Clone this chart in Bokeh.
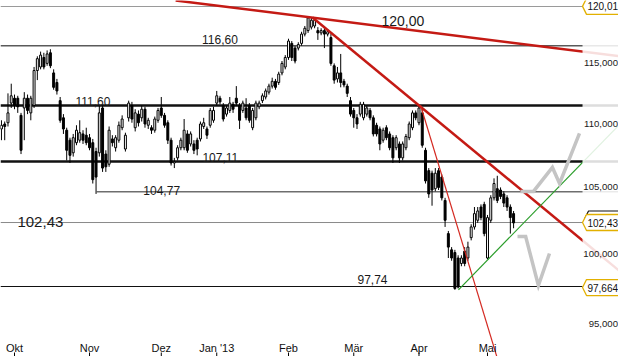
import math
import pandas as pd
from bokeh.plotting import figure
from bokeh.models import Range1d, ColumnDataSource, Grid
from bokeh.core.properties import value
from bokeh.embed import file_html
from bokeh.resources import INLINE

FONT = "Liberation Sans"

# ---------------- data ----------------
holidays = ["2012-12-24", "2012-12-25", "2012-12-26", "2012-12-31",
            "2013-01-01", "2013-03-29", "2013-04-01", "2013-05-01"]
sessions = [d for d in pd.bdate_range("2012-09-24", "2013-06-28")
            if d.strftime("%Y-%m-%d") not in holidays]

month_labels = ["Okt", "Nov", "Dez", "Jan '13", "Feb", "Mär", "Apr", "Mai"]
month_keys = [(2012, 10), (2012, 11), (2012, 12), (2013, 1), (2013, 2),
              (2013, 3), (2013, 4), (2013, 5)]

opens = [109.7, 110.1, 110.2, 111.8, 112.2, 112.2, 110.8, 111.4, 112.2, 111.0,
         111.6, 114.5, 114.8, 115.6, 115.1, 116.0, 114.3, 113.5, 112.0, 110.6,
         109.6, 108.8, 107.8, 108.6, 108.8, 109.3, 109.2, 109.0, 108.6, 107.9,
         107.8, 111.4, 107.7, 106.9, 108.9, 108.2, 108.8, 109.8, 108.1, 110.6,
         111.6, 109.8, 110.9, 110.6, 111.3, 110.0, 109.8, 109.6, 110.4, 111.4,
         110.8, 110.2, 108.8, 107.0, 107.4, 108.2, 108.2, 109.3, 108.5, 108.5,
         108.8, 108.9, 109.9, 109.7, 110.0, 110.4, 111.8, 112.2, 111.6, 110.9,
         111.2, 111.7, 112.2, 111.6, 111.2, 111.4, 111.6, 109.8, 110.6, 111.5,
         112.0, 112.3, 112.7, 113.2, 113.6, 113.5, 114.3, 114.8, 115.6, 116.8,
         116.4, 116.4, 116.8, 117.6, 117.9, 118.2, 118.3, 117.9, 117.7, 117.9,
         117.6, 117.3, 114.9, 113.8, 114.3, 113.6, 113.2, 112.0, 111.2, 110.6,
         110.9, 110.6, 110.9, 111.2, 110.6, 110.0, 109.7, 108.8, 109.8, 109.3,
         109.0, 108.2, 108.5, 107.4, 108.2, 109.0, 109.8, 111.0, 110.2, 111.0,
         108.0, 106.4, 106.2, 105.0, 106.4, 105.9, 104.1, 101.6, 100.4, 100.2,
         99.8, 99.4, 100.3, 99.8, 101.3, 102.1, 102.6, 103.6, 103.8, 99.8,
         102.6, 104.3, 105.0, 104.9, 104.6, 104.3, 103.6, 103.1]
highs = [110.4, 110.3, 112.6, 113.4, 112.5, 112.4, 111.0, 112.7, 112.5, 112.4,
         114.8, 115.7, 116.1, 116.0, 116.2, 116.3, 114.6, 113.8, 112.3, 110.9,
         109.8, 109.0, 109.3, 110.0, 110.4, 109.6, 109.8, 109.3, 108.9, 108.2,
         111.6, 111.6, 108.0, 109.9, 109.2, 109.2, 110.3, 110.8, 109.4, 112.0,
         111.9, 111.3, 111.2, 111.6, 111.5, 110.6, 110.0, 110.7, 111.4, 112.3,
         111.0, 110.4, 109.0, 107.4, 108.4, 109.0, 110.5, 109.6, 109.5, 108.8,
         109.0, 110.3, 110.6, 109.9, 111.4, 111.5, 112.8, 112.4, 111.8, 111.6,
         112.3, 111.9, 113.2, 111.8, 112.0, 112.2, 111.8, 111.4, 112.0, 112.0,
         112.6, 113.0, 113.4, 113.9, 113.8, 114.4, 115.3, 115.8, 117.2, 117.0,
         116.6, 116.9, 117.8, 118.3, 119.0, 119.0, 118.9, 118.2, 118.1, 118.1,
         118.0, 117.6, 115.1, 114.8, 115.9, 113.8, 113.4, 112.3, 111.4, 110.9,
         111.9, 111.9, 111.6, 111.4, 110.8, 110.2, 109.9, 109.8, 110.0, 109.5,
         109.2, 109.2, 108.7, 108.7, 109.3, 110.3, 111.2, 111.2, 111.6, 111.4,
         108.2, 106.6, 106.4, 106.6, 106.6, 106.1, 104.3, 101.8, 100.6, 100.4,
         100.0, 100.0, 100.6, 101.0, 102.3, 103.6, 103.6, 103.8, 104.0, 103.0,
         104.5, 105.8, 106.0, 105.1, 104.8, 104.5, 103.8, 103.3]
lows = [108.8, 108.8, 109.9, 111.4, 111.3, 111.0, 107.7, 108.8, 110.9, 110.4,
        111.4, 113.7, 114.6, 114.6, 114.9, 114.7, 112.9, 112.5, 110.2, 109.3,
        107.2, 107.0, 107.5, 108.4, 108.6, 108.5, 108.4, 108.0, 105.4, 104.6,
        107.5, 106.3, 106.3, 106.7, 108.3, 107.9, 108.6, 109.6, 107.9, 110.3,
        110.2, 109.5, 109.9, 110.3, 109.8, 109.7, 109.3, 109.4, 110.2, 110.6,
        109.8, 108.5, 106.8, 106.6, 107.2, 108.0, 108.0, 107.8, 108.3, 107.7,
        107.6, 108.7, 109.7, 108.9, 109.8, 110.2, 111.6, 111.7, 110.3, 110.7,
        111.0, 111.0, 111.6, 109.7, 111.0, 110.4, 110.2, 109.6, 110.4, 111.3,
        111.8, 112.1, 112.5, 113.0, 112.9, 113.3, 114.1, 114.6, 115.4, 115.3,
        115.1, 116.2, 116.6, 117.4, 117.7, 118.0, 118.1, 117.1, 117.5, 116.4,
        117.4, 114.9, 113.4, 113.5, 113.1, 113.1, 112.3, 110.7, 109.8, 109.7,
        110.7, 110.4, 110.7, 110.4, 109.1, 109.1, 108.0, 108.6, 108.8, 108.0,
        107.0, 108.0, 107.0, 107.2, 108.0, 108.8, 109.6, 110.4, 110.0, 108.2,
        105.4, 104.3, 103.7, 104.8, 104.9, 104.1, 102.1, 99.8, 99.6, 97.5,
        97.6, 99.2, 99.2, 99.6, 101.1, 101.9, 102.4, 102.6, 101.4, 99.7,
        102.4, 104.1, 103.9, 104.2, 103.6, 103.3, 101.6, 102.0]
closes = [110.0, 109.9, 111.0, 112.4, 111.6, 111.5, 108.0, 112.2, 111.2, 112.2,
          114.5, 115.5, 115.8, 114.8, 115.9, 114.9, 113.1, 112.8, 110.4, 109.7,
          108.0, 107.6, 109.0, 109.6, 109.4, 108.8, 108.6, 108.2, 105.7, 105.9,
          111.0, 106.6, 106.7, 109.6, 108.6, 109.0, 110.0, 110.5, 109.2, 111.8,
          110.5, 111.0, 110.2, 111.3, 110.1, 110.4, 109.6, 110.5, 111.2, 110.8,
          110.0, 108.8, 107.0, 107.1, 108.2, 108.8, 109.6, 108.0, 109.3, 108.0,
          108.1, 110.1, 110.2, 109.2, 111.2, 111.2, 112.4, 111.9, 110.5, 111.4,
          111.8, 111.3, 111.8, 110.4, 111.8, 110.6, 110.4, 111.2, 111.8, 111.8,
          112.4, 112.8, 113.2, 113.6, 113.1, 114.2, 115.1, 115.6, 117.0, 115.6,
          115.3, 116.7, 117.6, 118.1, 119.0, 118.8, 118.8, 117.7, 117.9, 117.6,
          117.8, 115.1, 113.7, 114.3, 113.5, 113.3, 112.6, 110.9, 110.6, 110.1,
          111.7, 111.7, 111.4, 110.6, 109.3, 109.3, 108.5, 109.6, 109.0, 108.2,
          107.4, 109.0, 107.4, 108.5, 109.1, 110.1, 111.0, 110.6, 111.4, 108.4,
          105.6, 104.6, 104.9, 106.2, 105.1, 104.3, 102.6, 100.6, 99.8, 97.6,
          97.7, 99.8, 99.4, 100.6, 102.1, 103.1, 103.3, 102.8, 101.6, 102.8,
          104.3, 105.4, 104.1, 104.4, 103.9, 103.6, 102.8, 102.4]
first_candle = 1  # session index of the first candle (25 Sep 2012)

# horizontal support / resistance levels
level_values = [120.00, 116.60, 111.60, 107.11, 104.77, 102.43, 97.74]
level_start = [0.7, 0.7, 0.7, 0.7, 30.2, 0.7, 0.7]       # session index
level_labels = ["120,00", "116,60", "111,60", "107,11", "104,77", "102,43", "97,74"]
label_x = [117.5, 62.5, 23.7, 62.6, 44.5, 5.9, 110.15]     # session index

# trend lines (session index, price)
trend_x0 = [54.4, 96.35, 129.5, 141.1]
trend_p0 = [120.53, 119.04, 111.6, 97.5]
trend_x1 = [192.6, 192.6, 153.6, 192.6]
trend_p1 = [115.64, 98.44, 92.3, 110.63]

# scenario projections
proj_up_x = [160.1, 164.1, 169.9, 172.1, 178.2]
proj_up_p = [104.79, 104.79, 106.65, 105.40, 109.34]
proj_dn_x = [159.2, 161.7, 165.6, 169.0]
proj_dn_p = [101.39, 101.39, 97.81, 100.13]

# price scale labels and tags
ytick_vals = [115, 110, 105, 100, 95]
ytick_text = ["115,000", "110,000", "105,000", "100,000", "95,000"]
tag_vals = [120.01, 102.43, 97.664]
tag_text = ["120,01", "102,43", "97,664"]

# ---------------- layout ----------------
W, H = 618, 356
X0, X1 = 0.708, 190.16
Y0, Y1 = 92.85, 120.53
PLOT_END = 179.13         # right end of the chart area (session index)
PLOT_BOTTOM = 93.81       # lowest price of the chart area
px_x = (X1 - X0) / W
ln_px = math.log(Y1 / Y0) / H

p = figure(width=W, height=H, x_range=Range1d(X0, X1), y_range=Range1d(Y0, Y1),
           y_axis_type="log", x_axis_location=None, y_axis_location=None,
           output_backend="svg", toolbar_location=None,
           min_border_left=0, min_border_right=0, min_border_top=0,
           min_border_bottom=0)
p.outline_line_color = None
p.background_fill_color = "white"
p.border_fill_color = "white"
for r in list(p.center):
    if isinstance(r, Grid):
        r.visible = False

month_ticks = []
for (yy, mm) in month_keys:
    for k, d in enumerate(sessions):
        if d.year == yy and d.month == mm:
            month_ticks.append(k)
            break

# horizontal levels
p.segment(x0=level_start, y0=level_values, x1=[X1 + 2] * len(level_values), y1=level_values,
          line_color=["#9a9a9a", "#5a5a5a", "#111111", "#111111", "#6e6e6e", "#8a8a8a", "#111111"],
          line_width=[1, 1.4, 2.6, 2.6, 1.6, 1, 1.1])

# candles
n = len(closes)
cx = list(range(first_candle, first_candle + n))
src = ColumnDataSource(dict(
    x=cx, o=opens, h=highs, l=lows, c=closes,
    top=[max(a, b) for a, b in zip(opens, closes)],
    bot=[min(a, b) for a, b in zip(opens, closes)],
    fill=["white" if c >= o else "black" for o, c in zip(opens, closes)],
    date=[sessions[k].strftime("%Y-%m-%d") for k in cx]))
p.segment(x0="x", y0="l", x1="x", y1="h", source=src, line_color="black", line_width=1)
p.vbar(x="x", width=0.6, top="top", bottom="bot", source=src,
       fill_color="fill", line_color="black", line_width=1)

# trend lines
p.segment(x0=trend_x0, y0=trend_p0, x1=trend_x1, y1=trend_p1,
          line_color=["#c41a14", "#c41a14", "#d42a22", "#2a9d2a"],
          line_width=[2.5, 2.5, 1.2, 1.2])

# projections
p.line(proj_up_x, proj_up_p, line_color="#c4c4c4", line_width=3.5, line_join="miter")
p.line(proj_dn_x, proj_dn_p, line_color="#c4c4c4", line_width=3.5, line_join="miter")

# fade of the price-scale strip
p.quad(left=[PLOT_END], right=[X1 + 2], bottom=[PLOT_BOTTOM], top=[Y1],
       fill_color="white", fill_alpha=0.86, line_color=None)

# level labels
lab_dy = [14.7, -6.5, -4, -4, -1, -1, -7]
lab_size = ["14px", "12px", "12px", "12px", "12px", "15px", "12px"]
p.text(x=label_x, y=level_values, text=level_labels, y_offset=lab_dy,
       text_font=value(FONT), text_font_size=lab_size, text_color="#1a1a1a",
       text_align="left", text_baseline="alphabetic")

# price scale labels (narrow strip at the right edge)
p.text(x=[X1 - 0.5 * px_x] * len(ytick_vals), y=ytick_vals, text=ytick_text,
       y_offset=-1.5, text_font=value(FONT), text_font_size="9.6px",
       text_color="#1a1a1a", text_align="right", text_baseline="middle")

# time axis: month labels and tick marks under them
p.text(x=month_ticks, y=[Y0] * len(month_ticks), text=month_labels, y_offset=-9,
       text_font=value(FONT), text_font_size="11px", text_color="#111111",
       text_align="center", text_baseline="middle")
p.segment(x0=month_ticks, y0=[Y0 * math.exp(0.5 * ln_px)] * len(month_ticks),
          x1=month_ticks, y1=[Y0 * math.exp(4.0 * ln_px)] * len(month_ticks),
          line_color="black", line_width=1)

# tags
def tag_poly(v, dx_px=0.0, dy_px=0.0):
    tip = PLOT_END + dx_px * px_x
    up = math.exp((8 - dy_px) * ln_px)
    dn = math.exp((-8 - dy_px) * ln_px)
    mid = math.exp(-dy_px * ln_px)
    xs = [tip, tip + 4 * px_x, X1 + 5, X1 + 5, tip + 4 * px_x]
    ys = [v * mid, v * up, v * up, v * dn, v * dn]
    return xs, ys

bx, by = tag_poly(tag_vals[1], 2, -3.5)
p.patch(bx, by, fill_color="white", line_color="#111111", line_width=1.2)
txs, tys = [], []
for v in tag_vals:
    xs, ys = tag_poly(v)
    txs.append(xs)
    tys.append(ys)
p.patches(txs, tys, fill_color="white", line_color="#e2b000", line_width=1.3)
p.text(x=[X1 - 0.5 * px_x] * len(tag_vals), y=tag_vals, text=tag_text,
       text_font=value(FONT), text_font_size="10px", text_color="#111111",
       text_align="right", text_baseline="middle")

open("out.html", "w").write(file_html(p, INLINE))
